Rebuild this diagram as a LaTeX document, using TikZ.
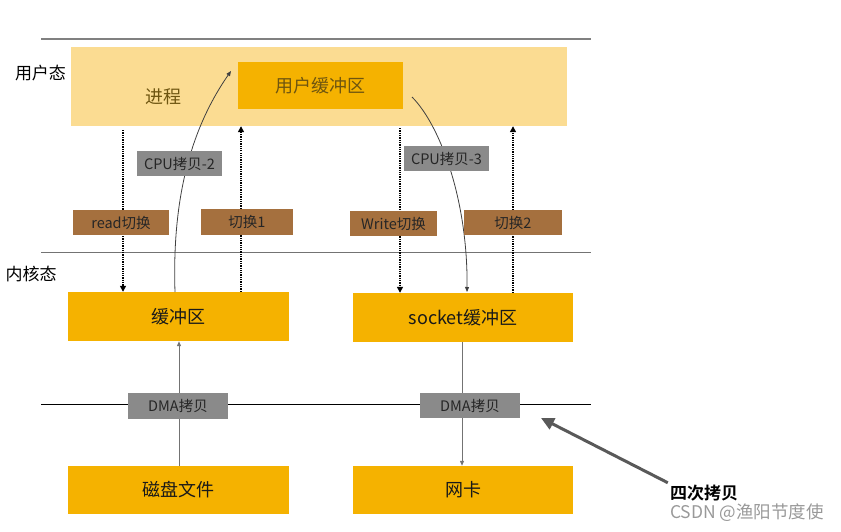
\documentclass[tikz,border=0pt]{standalone}
\usepackage{fontspec}
\setmainfont{Noto Sans CJK SC}
\newfontfamily\cjkb[BoldFont={* Bold}]{Noto Sans CJK SC}
\usetikzlibrary{arrows.meta}
\definecolor{lightyel}{HTML}{FBDC92}
\definecolor{orangebox}{HTML}{F5B200}
\definecolor{brownbox}{HTML}{A5703E}
\definecolor{greybox}{HTML}{8A8A8A}
\definecolor{olivetext}{HTML}{6E5510}
\tikzset{
  box/.style={inner sep=0pt, minimum width=#1, align=center},
  bigbox/.style={box=221, minimum height=49, fill=orangebox, font=\fontsize{18}{20}\selectfont, text=black!90},
  brownlbl/.style={inner sep=0pt, minimum height=25, fill=brownbox, font=\fontsize{14.5}{16}\selectfont, text=black!85},
  greylbl/.style={inner sep=0pt, minimum height=25, fill=greybox, font=\fontsize{14.5}{16}\selectfont, text=black!85},
  dotarrow/.style={densely dotted, line width=1.3pt, -{Triangle[length=6pt,width=6pt]}},
  curvearrow/.style={draw=black!75, line width=0.8pt, -{Triangle[length=5pt,width=4pt]}},
  dmaarrow/.style={draw=black!55, line width=1pt, -{Triangle[length=5pt,width=4pt]}},
  sidelbl/.style={font=\fontsize{17}{19}\selectfont, text=black, inner sep=1pt},
}
\begin{document}
\begin{tikzpicture}[x=1pt,y=-1pt]
\useasboundingbox (0,0) rectangle (841,532);

% horizontal separators
\draw[draw=black!50, line width=1.6pt] (41,39) -- (591,39);
\draw[draw=black!55, line width=1pt] (41,252) -- (591,252);
\draw[draw=black, line width=1pt] (41,404) -- (591,404);

% side labels
\node[sidelbl] (ustate) at (40.5,73) {用户态};
\node[sidelbl] (kstate) at (31,274) {内核态};

% process area
\node[box=496, minimum height=79, fill=lightyel] (proc) at (319,86.5) {};
\node[font=\fontsize{18}{20}\selectfont, text=olivetext, inner sep=0pt] (proclbl) at (163,97) {进程};
\node[box=165, minimum height=47, fill=orangebox, font=\fontsize{18}{20}\selectfont, text=olivetext] (ubuf) at (320.5,85.5) {用户缓冲区};

% kernel buffers and devices
\node[bigbox] (buf) at (178.5,316.5) {缓冲区};
\node[bigbox, box=220] (sock) at (463,317.5) {socket缓冲区};
\node[bigbox, minimum height=48] (disk) at (178.5,490) {磁盘文件};
\node[bigbox, box=220, minimum height=48] (nic) at (463,490) {网卡};

% coordinates for vertical connectors
\coordinate (xr) at (123,0);
\coordinate (xs1) at (241,0);
\coordinate (xw) at (400,0);
\coordinate (xs2) at (513,0);
\coordinate (xd1) at (179,0);
\coordinate (xd2) at (462,0);

% dotted switch arrows
\draw[dotarrow] (xr |- proc.south) ++(0,4) -- (xr |- buf.north);
\draw[dotarrow] (xs1 |- buf.north) -- (xs1 |- proc.south);
\draw[dotarrow] (xw |- proc.south) ++(0,2) -- (xw |- sock.north);
\draw[dotarrow] (xs2 |- sock.north) -- (xs2 |- proc.south);

% CPU copy curves
\coordinate (c2s) at (175,292);
\coordinate (c2e) at (231,71);
\coordinate (c3s) at (412,97);
\coordinate (c3e) at (467,292);
\draw[curvearrow] (c2s) .. controls (172,200) and (190,130) .. (c2e);
\draw[curvearrow] (c3s) .. controls (440,125) and (468,200) .. (c3e);

% DMA lines
\draw[dmaarrow] (xd1 |- disk.north) -- (xd1 |- buf.south);
\draw[dmaarrow] (xd2 |- sock.south) -- (xd2 |- nic.north);

% labels on top
\node[greylbl, minimum width=85] (cpu2) at (179.5,163.5) {CPU拷贝-2};
\node[greylbl, minimum width=85] (cpu3) at (446.5,158.5) {CPU拷贝-3};
\node[brownlbl, minimum width=96] (rsw) at (121,222.5) {read切换};
\node[brownlbl, minimum width=92, minimum height=26] (sw1) at (247,222) {切换1};
\node[brownlbl, minimum width=87] (wsw) at (393.5,223.5) {Write切换};
\node[brownlbl, minimum width=98] (sw2) at (513,222.5) {切换2};
\node[greylbl, minimum width=100, minimum height=26] (dma1) at (178,406) {DMA拷贝};
\node[greylbl, minimum width=100] (dma2) at (470,405.5) {DMA拷贝};

% four copies annotation
\node[font=\cjkb\bfseries\fontsize{17}{19}\selectfont, inner sep=1pt] (four) at (704,493) {四次拷贝};
\draw[draw=black!65, line width=3pt, -{Triangle[length=13pt,width=12pt]}] ([xshift=-1pt,yshift=1pt]four.north west) -- (541,418);

% watermark
\node[font=\fontsize{17.5}{19}\selectfont, text=black!40, inner sep=0pt] (wm) at (747,512.5) {CSDN @渔阳节度使};
\end{tikzpicture}
\end{document}
